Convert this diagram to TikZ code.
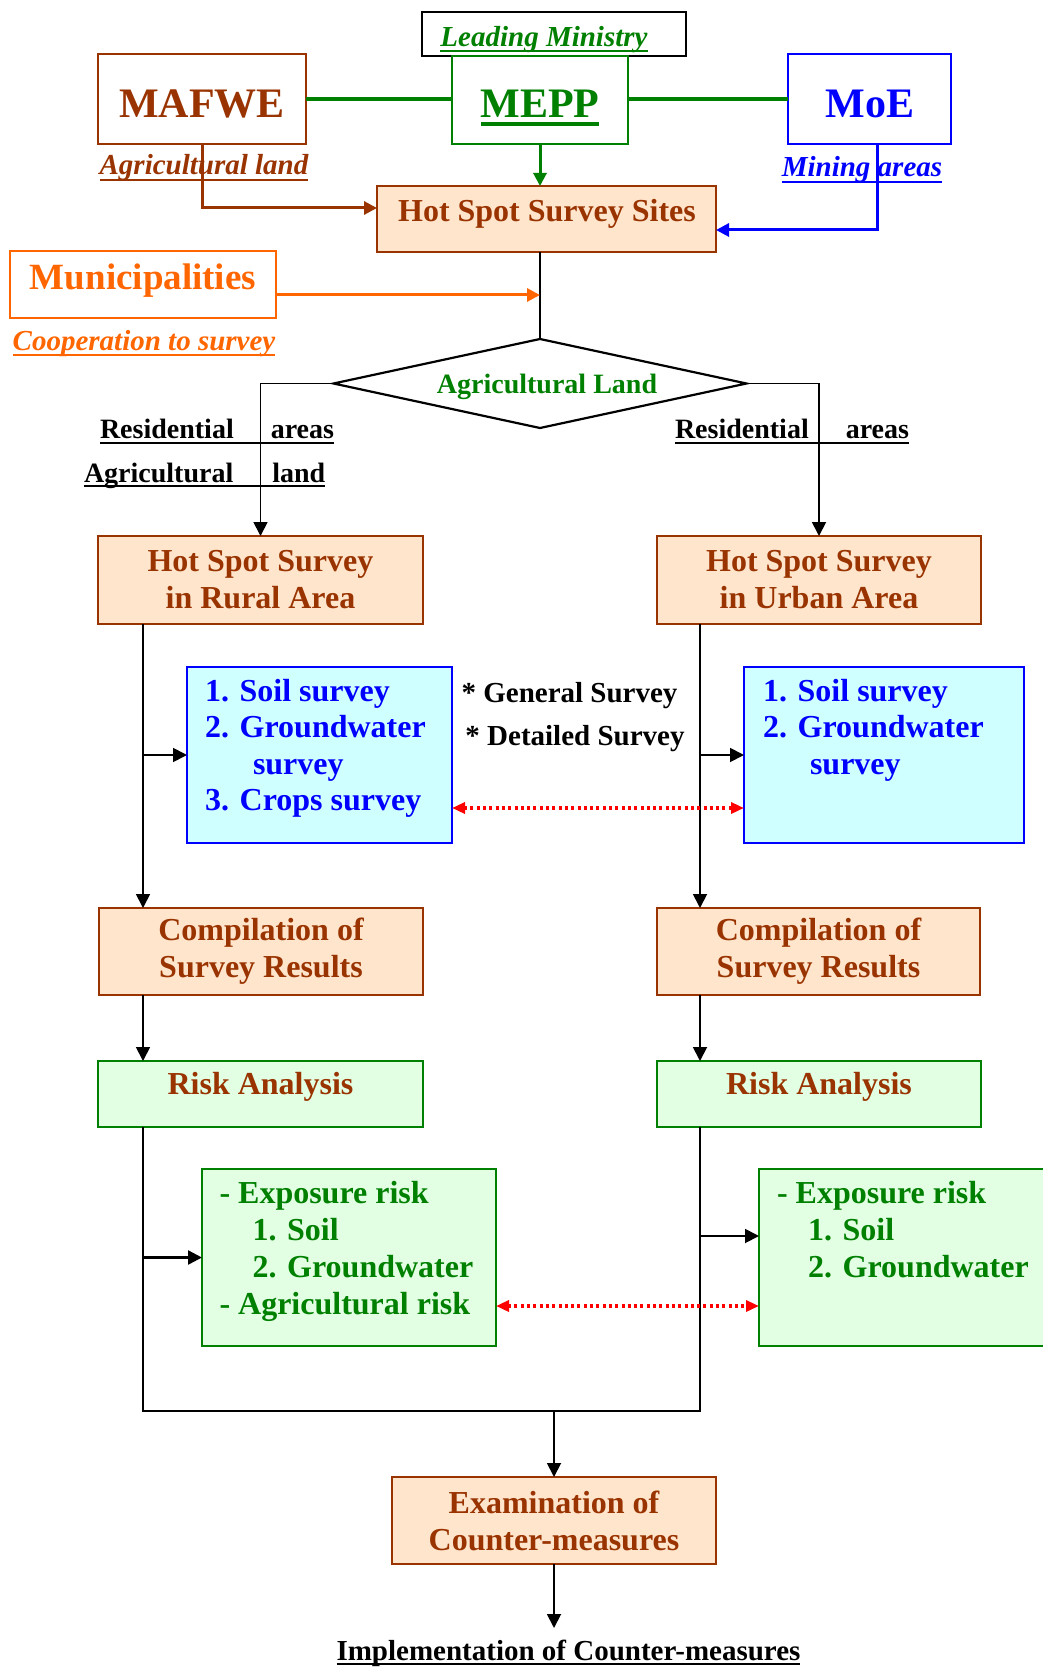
\documentclass[tikz,border=0pt]{standalone}
\usepackage{fontspec}
\setmainfont{Liberation Serif}
\usetikzlibrary{arrows.meta,shapes.geometric}

\definecolor{rust}{HTML}{993300}
\definecolor{peach}{HTML}{FFE5CC}
\definecolor{leaf}{HTML}{008000}
\definecolor{mint}{HTML}{E3FFE3}
\definecolor{pureblue}{HTML}{0000FF}
\definecolor{tangerine}{HTML}{FF6600}
\definecolor{icecyan}{HTML}{D0FFFF}
\definecolor{alarm}{HTML}{FF0000}

\tikzset{
  every node/.style={inner sep=0pt, outer sep=0pt},
  % type sizes (1pt = one unit of the drawing grid)
  big/.style={font=\fontsize{42}{48}\selectfont\bfseries},
  mid/.style={font=\fontsize{37}{42}\selectfont\bfseries},
  std/.style={font=\fontsize{32}{37}\selectfont\bfseries},
  lst/.style={font=\fontsize{32}{36.5}\selectfont\bfseries, align=left, anchor=north west},
  sml/.style={font=\fontsize{29}{34}\selectfont\bfseries},
  smi/.style={font=\fontsize{29}{34}\selectfont\bfseries\itshape},
  tag/.style={font=\fontsize{28}{33}\selectfont\bfseries},
  % boxes
  agency/.style={draw=#1, fill=white, line width=2.5pt},
  panel/.style={draw=rust, fill=peach, line width=2.5pt, text=rust, align=center,
                font=\fontsize{32}{37}\selectfont\bfseries},
  riskbox/.style={draw=leaf, fill=mint, line width=2.5pt},
  listbox/.style={draw=pureblue, line width=2.5pt, left color=icecyan,
                  middle color=white, right color=icecyan},
  % connectors
  wire/.style={line width=1.8pt, black},
  arr/.style={wire, -{Triangle[length=14pt,width=14pt]}},
  link/.style={line width=3pt, -{Triangle[length=13pt,width=13pt]}},
  pair/.style={alarm, line width=3.5pt, dash pattern=on 3pt off 3.3pt,
               {Triangle[length=13pt,width=11pt]}-{Triangle[length=13pt,width=11pt]}},
}

\begin{document}
\begin{tikzpicture}[x=1pt, y=-1pt]
\useasboundingbox[fill=white] (0,0) rectangle (1043,1669);

% ---------- ministries ----------
\node[agency=black, line width=2pt, minimum width=264pt, minimum height=44pt] (lead) at (554,34) {};
\node[agency=rust, minimum width=208pt, minimum height=90pt] (mafwe) at (202,99) {};
\node[agency=leaf, minimum width=176pt, minimum height=88pt] (mepp) at (540,100) {};
\node[agency=pureblue, minimum width=163pt, minimum height=90pt] (moe) at (869.5,99) {};

\node[smi, text=leaf, anchor=base] (leadT) at (544,47) {Leading Ministry};
\node[big, text=rust, anchor=base] (mafweT) at (202,118) {MAFWE};
\node[big, text=leaf, anchor=base] (meppT) at (540,118) {MEPP};
\node[big, text=pureblue, anchor=base] (moeT) at (870,118) {MoE};
\draw[leaf, line width=2pt] ([yshift=-4pt]leadT.base west) -- ([yshift=-4pt]leadT.base east);
\draw[leaf, line width=3.5pt] ([yshift=-6pt]meppT.base west) -- ([yshift=-6pt]meppT.base east);

\draw[leaf, line width=4.5pt] (mafwe.east |- 0,99) -- (mepp.west |- 0,99);
\draw[leaf, line width=4.5pt] (mepp.east |- 0,99) -- (moe.west |- 0,99);

\node[smi, text=rust, anchor=base] (agriT) at (204,175) {Agricultural land};
\draw[rust, line width=2.5pt] ([yshift=-5pt]agriT.base west) -- ([yshift=-5pt]agriT.base east);
\node[smi, text=pureblue, anchor=base] (mineT) at (862,177) {Mining areas};
\draw[pureblue, line width=2.5pt] ([yshift=-5pt]mineT.base west) -- ([yshift=-5pt]mineT.base east);

% ---------- survey sites ----------
\node[panel, minimum width=339pt, minimum height=66pt] (sites) at (546.5,219) {};
\node[std, text=rust, anchor=base] (sitesT) at (547,222) {Hot Spot Survey Sites};

\node[agency=tangerine, minimum width=266pt, minimum height=67pt] (muni) at (143,284.5) {};
\node[mid, text=tangerine, anchor=base] (muniT) at (143,290) {Municipalities};
\node[smi, text=tangerine, anchor=base] (coopT) at (144,350) {Cooperation to survey};
\draw[tangerine, line width=2.5pt] ([yshift=-5pt]coopT.base west) -- ([yshift=-5pt]coopT.base east);

% ---------- decision ----------
\node[diamond, draw, line width=2.2pt, minimum width=413pt, minimum height=89pt] (dia) at (540,383.5) {};
\node[tag, text=leaf, anchor=base] (diaT) at (547,393) {Agricultural Land};

\node[tag, anchor=base west] (resL) at (100,438) {Residential\hspace*{37pt}areas};
\draw[line width=2.2pt] ([yshift=-5pt]resL.base west) -- ([yshift=-5pt]resL.base east);
\node[tag, anchor=base west] (agrL) at (84,482) {Agricultural\hspace*{39pt}land};
\draw[line width=2.2pt] ([yshift=-4pt]agrL.base west) -- ([yshift=-4pt]agrL.base east);
\node[tag, anchor=base west] (resR) at (675,438) {Residential\hspace*{37pt}areas};
\draw[line width=2.2pt] ([yshift=-5pt]resR.base west) -- ([yshift=-5pt]resR.base east);

% ---------- two survey tracks ----------
\node[panel, minimum width=325pt, minimum height=88pt] (rural) at (260.5,580) {Hot Spot Survey\\in Rural Area};
\node[panel, minimum width=324pt, minimum height=88pt] (urban) at (819,580) {Hot Spot Survey\\in Urban Area};

\node[listbox, minimum width=265pt, minimum height=176pt] (blue1) at (319.5,755) {};
\node[listbox, minimum width=280pt, minimum height=176pt] (blue2) at (884,755) {};
\node[lst, text=pureblue] (blue1T) at (205,677)
  {\rule{0pt}{24pt}1. Soil survey\\2. Groundwater\\\hspace*{48pt}survey\\3. Crops survey};
\node[lst, text=pureblue] (blue2T) at (763,677)
  {\rule{0pt}{24pt}1. Soil survey\\2. Groundwater\\\hspace*{47pt}survey};

\node[sml, anchor=base] (genT) at (569.5,702) {* General Survey};
\node[sml, anchor=base] (detT) at (575,745) {* Detailed Survey};

\node[panel, minimum width=324pt, minimum height=87pt] (comp1) at (261,951.5) {Compilation of\\Survey Results};
\node[panel, minimum width=323pt, minimum height=87pt] (comp2) at (818.5,951.5) {Compilation of\\Survey Results};

\node[riskbox, minimum width=325pt, minimum height=66pt] (risk1) at (260.5,1094) {};
\node[riskbox, minimum width=324pt, minimum height=66pt] (risk2) at (819,1094) {};
\node[std, text=rust, anchor=base] (risk1T) at (260.5,1094) {Risk Analysis};
\node[std, text=rust, anchor=base] (risk2T) at (819,1094) {Risk Analysis};

\node[riskbox, minimum width=294pt, minimum height=177pt] (expo1) at (349,1257.5) {};
\node[riskbox, minimum width=291pt, minimum height=177pt] (expo2) at (904.5,1257.5) {};
\node[lst, text=leaf, font=\fontsize{32}{37}\selectfont\bfseries] (expo1T) at (219.5,1179)
  {\rule{0pt}{24pt}- Exposure risk\\\hspace*{33pt}1. Soil\\\hspace*{33pt}2. Groundwater\\- Agricultural risk};
\node[lst, text=leaf, font=\fontsize{32}{37}\selectfont\bfseries] (expo2T) at (777,1179)
  {\rule{0pt}{24pt}- Exposure risk\\\hspace*{31pt}1. Soil\\\hspace*{31pt}2. Groundwater};

\node[panel, minimum width=324pt, minimum height=87pt] (exam) at (554,1520.5) {Examination of\\Counter-measures};
\node[sml, anchor=base] (implT) at (568.5,1660) {Implementation of Counter-measures};
\draw[line width=2.2pt] ([yshift=-4pt]implT.base west) -- ([yshift=-4pt]implT.base east);

% ---------- connectors ----------
\coordinate (spL) at (143,0);
\coordinate (spR) at (700,0);
\coordinate (merge) at (0,1411);
\coordinate (implTip) at (554,1628);

\draw[link, leaf] (mepp.south) -- (mepp.south |- sites.north);
\draw[link, rust] (mafwe.south) |- ([yshift=11pt]sites.west);
\draw[link, pureblue] ([xshift=7.5pt]moe.south) |- ([yshift=-11pt]sites.east);
\draw[wire] (sites.south -| dia.north) -- (dia.north);
\draw[link, tangerine] ([yshift=-10.5pt]muni.east) -- ([yshift=-10.5pt]muni.east -| dia.north);

\draw[arr] (dia.west) -| (rural.north);
\draw[arr] (dia.east) -| (urban.north);

\draw[arr] (rural.south -| spL) -- (comp1.north -| spL);
\draw[arr] (blue1.west -| spL) -- (blue1.west);
\draw[arr] (urban.south -| spR) -- (comp2.north -| spR);
\draw[arr] (blue2.west -| spR) -- (blue2.west);

\draw[arr] (comp1.south -| spL) -- (risk1.north -| spL);
\draw[arr] (comp2.south -| spR) -- (risk2.north -| spR);

\coordinate (e2in) at ([yshift=21.5pt]expo2.west);
\draw[arr, line width=2.4pt] (expo1.west -| spL) -- (expo1.west);
\draw[arr] (e2in -| spR) -- (e2in);

\draw[wire] (risk1.south -| spL) -- (merge -| spL) -- (merge -| spR) -- (risk2.south -| spR);
\draw[arr] (merge -| exam.north) -- (exam.north);
\draw[arr] (exam.south) -- (implTip);

\coordinate (b1r) at ([yshift=-53pt]blue1.east);
\draw[pair] (b1r) -- (b1r -| blue2.west);
\coordinate (e1r) at ([yshift=-48.5pt]expo1.east);
\draw[pair] (e1r) -- (e1r -| expo2.west);
\end{tikzpicture}
\end{document}
